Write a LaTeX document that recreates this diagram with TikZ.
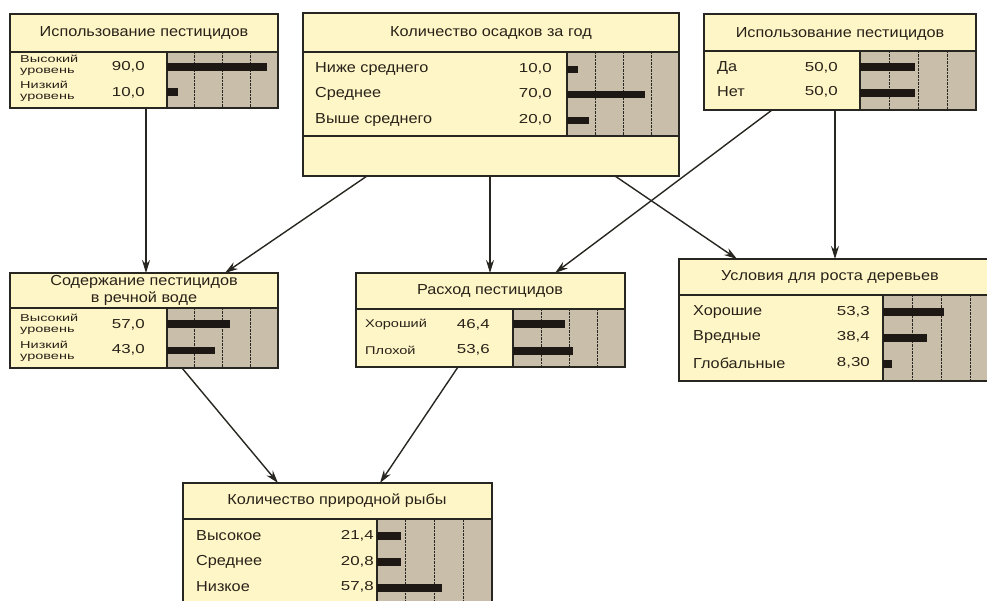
\documentclass[tikz,border=0pt]{standalone}
\usepackage{fontspec}
\setmainfont{Liberation Sans}[FakeStretch=1.12]
\newfontfamily\widefont{Liberation Sans}[FakeStretch=1.45]
\newfontfamily\midwide{Liberation Sans}[FakeStretch=1.3]
\usetikzlibrary{arrows.meta}
\definecolor{cream}{RGB}{255,246,200}
\definecolor{chartbg}{RGB}{200,190,170}
\definecolor{barcol}{RGB}{30,24,20}
\definecolor{ink}{RGB}{40,34,24}
\definecolor{edge}{RGB}{40,38,32}
\newcommand\chartbox[4]{%
  \fill[chartbg] (#1,#2) rectangle (#3,#4);
  \foreach \f in {0.25,0.5,0.75}{\draw[gridline] ({#1+\f*(#3-#1)},#2) -- ({#1+\f*(#3-#1)},#4);}
  \draw[edge,line width=1.4pt] (#1,#2) -- (#1,#4);}
\newcommand\statbar[5]{\fill[barcol] (#1,#2) rectangle ({#1+#5/100*#3},#4);}
\tikzset{
  boxnode/.style={draw=edge,line width=1.4pt,fill=cream,inner sep=0pt,outer sep=0pt,anchor=north west},
  gridline/.style={edge,line width=0.8pt,dash pattern=on 2.5pt off 1pt},
  divider/.style={edge,line width=1.4pt},
  titletext/.style={text=ink,font=\fontsize{14.5}{16.5}\selectfont,align=center,inner sep=0pt},
  labeltext/.style={text=ink,font=\fontsize{14.5}{16.5}\selectfont,anchor=west,inner sep=0pt},
  valtext/.style={text=ink,font=\midwide\fontsize{13}{15}\selectfont,anchor=east,inner sep=0pt},
  smalllabel/.style={text=ink,font=\widefont\fontsize{10}{11}\selectfont,anchor=west,align=left,inner sep=0pt},
  midlabel/.style={text=ink,font=\midwide\fontsize{11.2}{13}\selectfont,anchor=west,inner sep=0pt},
  link/.style={draw=edge,line width=1.4pt,-{Stealth[length=13pt,width=8pt]}}
}
\begin{document}
\begin{tikzpicture}[x=1pt,y=-1pt]
\useasboundingbox (0,0) rectangle (987,601);
\clip (0,0) rectangle (987,601);
% ---------- node 1
\node[boxnode,minimum width=268pt,minimum height=94pt] (n1) at (10,14) {};
\chartbox{167}{52}{278}{108}
\draw[divider] (10,52) -- (278,52);
\draw[edge,line width=1.4pt] (n1.north west) rectangle (n1.south east);
\node[titletext] (t1) at (144,33) {Использование пестицидов};
\node[smalllabel] (l11) at (20,65.5) {Высокий\\уровень};
\node[smalllabel] (l12) at (20,91.5) {Низкий\\уровень};
\node[valtext] (v11) at (145,67) {90,0};
\node[valtext] (v12) at (145,93) {10,0};
\statbar{167}{63}{111}{71}{90}
\statbar{167}{88}{111}{96}{10}
% ---------- node 2
\node[boxnode,minimum width=376pt,minimum height=163pt] (n2) at (303,13) {};
\chartbox{567}{52}{679}{136}
\draw[divider] (303,52) -- (679,52);
\draw[divider] (303,136) -- (679,136);
\draw[edge,line width=1.4pt] (n2.north west) rectangle (n2.south east);
\node[titletext] (t2) at (491,33) {Количество осадков за год};
\node[labeltext] (l21) at (315,69) {Ниже среднего};
\node[labeltext] (l22) at (315,94) {Среднее};
\node[labeltext] (l23) at (315,120) {Выше среднего};
\node[valtext] (v21) at (552,69) {10,0};
\node[valtext] (v22) at (552,94) {70,0};
\node[valtext] (v23) at (552,120) {20,0};
\statbar{567}{66}{112}{73}{10}
\statbar{567}{91}{112}{98}{70}
\statbar{567}{117}{112}{124}{20}
% ---------- node 3
\node[boxnode,minimum width=272pt,minimum height=96pt] (n3) at (704,14) {};
\chartbox{860}{51}{976}{110}
\draw[divider] (704,51) -- (976,51);
\draw[edge,line width=1.4pt] (n3.north west) rectangle (n3.south east);
\node[titletext] (t3) at (840,34) {Использование пестицидов};
\node[labeltext] (l31) at (717,68) {Да};
\node[labeltext] (l32) at (717,92) {Нет};
\node[valtext] (v31) at (838,68) {50,0};
\node[valtext] (v32) at (838,92) {50,0};
\statbar{860}{63}{110}{71}{50}
\statbar{860}{89}{110}{97}{50}
% ---------- node 4
\node[boxnode,minimum width=268pt,minimum height=95pt] (n4) at (10,273) {};
\chartbox{167}{308}{278}{368}
\draw[divider] (10,308) -- (278,308);
\draw[edge,line width=1.4pt] (n4.north west) rectangle (n4.south east);
\node[titletext] (t4) at (144,290.5) {Содержание пестицидов\\в речной воде};
\node[smalllabel] (l41) at (20,324.5) {Высокий\\уровень};
\node[smalllabel] (l42) at (20,351.5) {Низкий\\уровень};
\node[valtext] (v41) at (145,325) {57,0};
\node[valtext] (v42) at (145,350) {43,0};
\statbar{167}{320}{111}{328}{57}
\statbar{167}{347}{111}{354}{43}
% ---------- node 5
\node[boxnode,minimum width=269pt,minimum height=94pt] (n5) at (356,273) {};
\chartbox{513}{309}{625}{367}
\draw[divider] (356,309) -- (625,309);
\draw[edge,line width=1.4pt] (n5.north west) rectangle (n5.south east);
\node[titletext] (t5) at (490,291) {Расход пестицидов};
\node[midlabel] (l51) at (365,325) {Хороший};
\node[midlabel] (l52) at (365,350) {Плохой};
\node[valtext] (v51) at (490,325) {46,4};
\node[valtext] (v52) at (490,350) {53,6};
\statbar{513}{320}{112}{328}{46.4}
\statbar{513}{347}{112}{355}{53.6}
% ---------- node 6
\node[boxnode,minimum width=320pt,minimum height=122pt] (n6) at (679,259) {};
\chartbox{883}{295}{999}{381}
\draw[divider] (679,295) -- (999,295);
\draw[edge,line width=1.4pt] (n6.north west) rectangle (n6.south east);
\node[titletext] (t6) at (830,277) {Условия для роста деревьев};
\node[labeltext] (l61) at (693,312) {Хорошие};
\node[labeltext] (l62) at (693,337) {Вредные};
\node[labeltext] (l63) at (693,363) {Глобальные};
\node[valtext] (v61) at (870,312) {53,3};
\node[valtext] (v62) at (870,337) {38,4};
\node[valtext] (v63) at (870,363) {8,30};
\statbar{883}{308}{114}{316}{53.3}
\statbar{883}{334}{114}{342}{38.4}
\statbar{883}{360}{114}{368}{8.3}
% ---------- node 7
\node[boxnode,minimum width=309pt,minimum height=132pt] (n7) at (183,483) {};
\chartbox{377}{519}{492}{615}
\draw[divider] (183,519) -- (492,519);
\draw[edge,line width=1.4pt] (n7.north west) rectangle (n7.south east);
\node[titletext] (t7) at (337,501) {Количество природной рыбы};
\node[labeltext] (l71) at (196,536) {Высокое};
\node[labeltext] (l72) at (196,562) {Среднее};
\node[labeltext] (l73) at (196,587) {Низкое};
\node[valtext] (v71) at (374,536) {21,4};
\node[valtext] (v72) at (374,562) {20,8};
\node[valtext] (v73) at (374,587) {57,8};
\statbar{377}{532}{113}{540}{21.4}
\statbar{377}{558}{113}{566}{20.8}
\statbar{377}{584}{113}{592}{57.8}
% ---------- connectors
\draw[link] ([xshift=136pt]n1.south west) -- ([xshift=136pt]n4.north west);
\draw[link] ([xshift=64pt]n2.south west) -- ([xshift=215pt]n4.north west);
\draw[link] ([xshift=187pt]n2.south west) -- ([xshift=134pt]n5.north west);
\draw[link] ([xshift=312pt]n2.south west) -- ([xshift=58pt]n6.north west);
\draw[link] ([xshift=68pt]n3.south west) -- ([xshift=199pt]n5.north west);
\draw[link] ([xshift=131pt]n3.south west) -- ([xshift=156pt]n6.north west);
\draw[link] ([xshift=172pt]n4.south west) -- ([xshift=95pt]n7.north west);
\draw[link] ([xshift=102pt]n5.south west) -- ([xshift=197pt]n7.north west);
\end{tikzpicture}
\end{document}
